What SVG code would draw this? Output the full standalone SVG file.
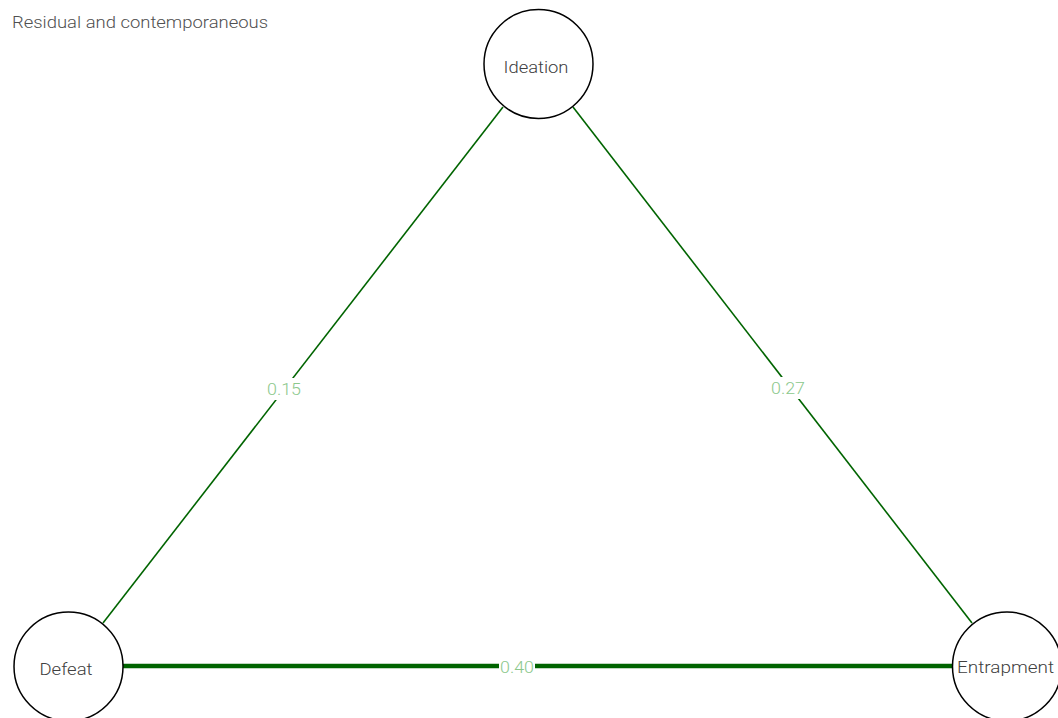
<svg xmlns="http://www.w3.org/2000/svg" width="1058" height="718" viewBox="0 0 1058 718">
<style>
.node circle{fill:#fff;stroke:#000;stroke-width:1.5}
.node text{font-family:Roboto,"Liberation Sans",sans-serif;font-size:17px;fill:#404040;text-anchor:middle;font-weight:300}
.edge{stroke:#006400;fill:none}
.lbl{font-family:Roboto,"Liberation Sans",sans-serif;font-size:17px;fill:#8cc88c;text-anchor:middle;font-weight:300}
.lblbg{fill:#fff}
</style>
<rect width="1058" height="718" fill="#fff"/>
<text x="12" y="28" font-family="Roboto,'Liberation Sans',sans-serif" font-size="17" font-weight="300" fill="#505050" textLength="256" lengthAdjust="spacingAndGlyphs">Residual and contemporaneous</text>
<g id="connectors">
<line class="edge" x1="503" y1="107" x2="103" y2="623" stroke-width="1.6"/>
<line class="edge" x1="573" y1="107" x2="972" y2="623" stroke-width="1.6"/>
<line class="edge" x1="123" y1="666" x2="952" y2="666" stroke-width="4.5"/>
<rect class="lblbg" x="266" y="378" width="36" height="22"/>
<text class="lbl" x="284" y="395" textLength="34" lengthAdjust="spacingAndGlyphs">0.15</text>
<rect class="lblbg" x="770" y="377" width="36" height="22"/>
<text class="lbl" x="788" y="394" textLength="34" lengthAdjust="spacingAndGlyphs">0.27</text>
<rect class="lblbg" x="499" y="656" width="36" height="22"/>
<text class="lbl" x="517" y="673" textLength="34" lengthAdjust="spacingAndGlyphs">0.40</text>
</g>
<g id="ideation" class="node"><circle cx="538.5" cy="64" r="54.5"/><text x="536" y="73" textLength="65" lengthAdjust="spacingAndGlyphs">Ideation</text></g>
<g id="defeat" class="node"><circle cx="68.5" cy="666.5" r="54.5"/><text x="66" y="675" textLength="53" lengthAdjust="spacingAndGlyphs">Defeat</text></g>
<g id="entrapment" class="node"><circle cx="1007" cy="666.5" r="54.5"/><text x="1005.5" y="673" textLength="97" lengthAdjust="spacingAndGlyphs">Entrapment</text></g>
</svg>
